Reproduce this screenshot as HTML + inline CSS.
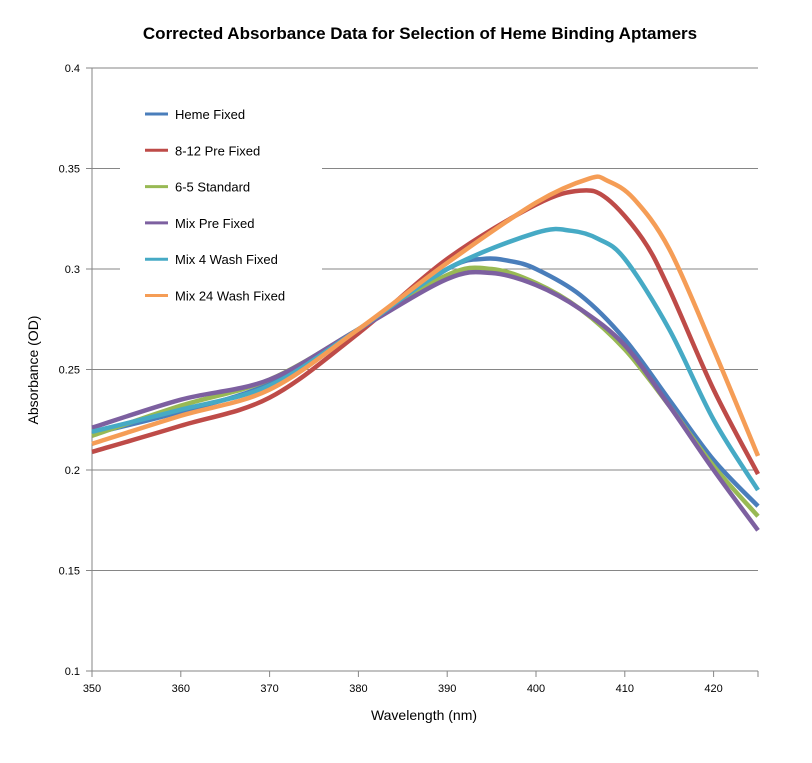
<!DOCTYPE html>
<html><head><meta charset="utf-8"><style>
body{margin:0;background:#fff;width:812px;height:758px;overflow:hidden}
text{font-family:"Liberation Sans",sans-serif}
</style></head><body>
<svg id="s" width="812" height="758" xmlns="http://www.w3.org/2000/svg">
<rect width="812" height="758" fill="#fff"/>
<text x="420" y="39" text-anchor="middle" font-size="17" font-weight="bold">Corrected Absorbance Data for Selection of Heme Binding Aptamers</text>
<g id="grid" stroke="#868686" stroke-width="1"></g>
<g id="series" fill="none" stroke-width="4.5" stroke-linejoin="round"></g>
<rect x="120" y="90" width="202" height="222" fill="#fff"/>
<g id="legend" font-size="13"></g>
<text x="424" y="720" text-anchor="middle" font-size="14">Wavelength (nm)</text>
<text transform="translate(38,370) rotate(-90)" text-anchor="middle" font-size="14">Absorbance (OD)</text>
</svg>
<script>
const NS="http://www.w3.org/2000/svg";
const X=v=>92+(v-350)*(758-92)/75, Y=v=>671-(v-0.1)*(603/0.3);
const g=document.getElementById('grid');
function el(p,tag,a,t){const e=document.createElementNS(NS,tag);for(const k in a)e.setAttribute(k,a[k]);if(t)e.textContent=t;p.appendChild(e);return e}
const s=document.getElementById('s');
for(let i=0;i<=6;i++){const v=0.1+i*0.05,y=Y(v);
 el(g,'line',{x1:86,x2:758,y1:y,y2:y});
 el(s,'text',{x:80,y:y+4,'text-anchor':'end','font-size':'11'},(Math.round(v*100)/100).toString());}
el(g,'line',{x1:92,x2:92,y1:68,y2:671});
[350,360,370,380,390,400,410,420].forEach(v=>{el(g,'line',{x1:X(v),x2:X(v),y1:671,y2:677});el(s,'text',{x:X(v),y:692,'text-anchor':'middle','font-size':'11'},v)});
el(g,'line',{x1:758,x2:758,y1:671,y2:677});
const data=[
["Heme Fixed","#4A7EBB",[[350,.218],[360,.229],[370,.243],[380,.27],[390,.300],[394,.305],[397,.304],[400,.300],[405,.287],[410,.265],[415,.235],[420,.205],[425,.182]]],
["8-12 Pre Fixed","#BE4B48",[[350,.209],[360,.222],[370,.236],[380,.268],[390,.305],[400,.332],[405,.339],[408,.335],[412,.315],[415,.29],[420,.24],[425,.198]]],
["6-5 Standard","#98B954",[[350,.217],[360,.232],[370,.245],[380,.27],[390,.297],[395,.300],[400,.293],[405,.280],[410,.26],[415,.232],[420,.202],[425,.177]]],
["Mix Pre Fixed","#7D60A0",[[350,.221],[360,.235],[370,.245],[380,.27],[390,.295],[395,.298],[400,.292],[405,.280],[410,.262],[415,.232],[420,.2],[425,.17]]],
["Mix 4 Wash Fixed","#46AAC5",[[350,.219],[360,.230],[370,.242],[380,.27],[390,.300],[400,.318],[404,.319],[407,.315],[410,.305],[415,.27],[420,.225],[425,.19]]],
["Mix 24 Wash Fixed","#F59D56",[[350,.213],[360,.227],[370,.240],[380,.27],[390,.303],[400,.333],[406,.345],[408,.344],[411,.335],[415,.31],[420,.26],[425,.207]]]];
const sg=document.getElementById('series'),lg=document.getElementById('legend');
data.forEach((d,i)=>{const p=d[2].map(q=>[X(q[0]),Y(q[1])]);
 let str="M"+p[0];
 for(let k=0;k<p.length-1;k++){const a=p[k-1]||p[k],b=p[k],c=p[k+1],e=p[k+2]||c;
  str+=` C${b[0]+(c[0]-a[0])/6},${b[1]+(c[1]-a[1])/6} ${c[0]-(e[0]-b[0])/6},${c[1]-(e[1]-b[1])/6} ${c[0]},${c[1]}`;}
 el(sg,'path',{d:str,stroke:d[1]});
 const y=114+i*36.3;
 el(lg,'line',{x1:145,x2:168,y1:y,y2:y,stroke:d[1],'stroke-width':3});
 el(lg,'text',{x:175,y:y+5},d[0]);});
</script>
</body></html>
